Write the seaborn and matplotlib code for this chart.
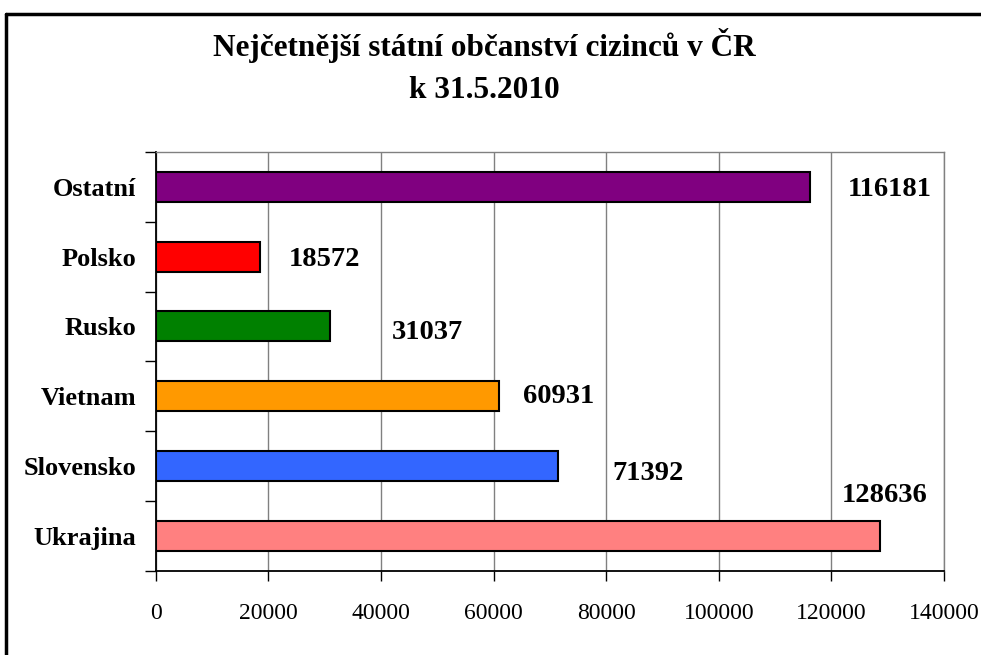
import numpy as np
import pandas as pd
import matplotlib
matplotlib.use("Agg")
import matplotlib.pyplot as plt
from matplotlib.lines import Line2D
import seaborn as sns

# data
countries = ["Ostatní", "Polsko", "Rusko", "Vietnam", "Slovensko", "Ukrajina"]
counts = [116181, 18572, 31037, 60931, 71392, 128636]
bar_colors = ["#800080", "#FF0000", "#008000", "#FF9900", "#3366FF", "#FF8080"]

# where the value labels sit (data x, offset in category units)
label_x = [130300, 30000, 48200, 71500, 87400, 129400]
label_dy = [0.0, 0.0, 0.04, -0.04, 0.06, -0.62]

df = pd.DataFrame({"country": countries, "count": counts})

sns.set_style("white")
plt.rcParams["font.family"] = ["Liberation Serif", "DejaVu Serif"]
plt.rcParams["text.color"] = "black"
plt.rcParams["xtick.color"] = "black"
plt.rcParams["ytick.color"] = "black"

fig = plt.figure(figsize=(9.81, 6.55), dpi=100)
ax = fig.add_axes([0.1587, 0.1287, 0.8036, 0.6392])

sns.barplot(data=df, x="count", y="country", hue="country", palette=bar_colors,
            order=countries, width=0.43, edgecolor="black", linewidth=1.5,
            saturation=1, legend=False, ax=ax)

ax.set_xlim(0, 140000)
ax.set_ylim(5.5, -0.5)
ax.set_xticks(np.arange(0, 140001, 20000))
ax.set_xticklabels([str(v) for v in range(0, 140001, 20000)], fontsize=17)
ax.set_yticks(range(len(countries)))
ax.set_yticklabels(countries, fontsize=19, fontweight="bold")
ax.set_yticks(np.arange(-0.5, 6, 1), minor=True)
ax.tick_params(axis="y", which="major", length=0, pad=14)
ax.tick_params(axis="y", which="minor", length=8, width=1, color="black", direction="out", left=True)
ax.tick_params(axis="x", which="major", length=7, width=1, color="black", direction="out", pad=16, bottom=True)
ax.set_xlabel("")
ax.set_ylabel("")

ax.grid(axis="x", color="#808080", linewidth=1)
ax.set_axisbelow(True)
for side in ["top", "right"]:
    ax.spines[side].set_color("#808080")
    ax.spines[side].set_linewidth(1)
for side in ["left", "bottom"]:
    ax.spines[side].set_color("black")
    ax.spines[side].set_linewidth(1.3)

for i, v in enumerate(counts):
    ax.text(label_x[i], i + label_dy[i], str(v), ha="center", va="center_baseline",
            fontsize=20.5, fontweight="bold", color="black")

fig.text(0.4935, 0.931, "Nejčetnější státní občanství cizinců v ČR", ha="center", va="center",
         fontsize=22.5, fontweight="bold", color="black")
fig.text(0.4935, 0.862, "k 31.5.2010", ha="center", va="center",
         fontsize=22.5, fontweight="bold", color="black")

# outer chart frame (cut off at right and bottom)
fig.add_artist(Line2D([6 / 981, 1.0], [1 - 14 / 655, 1 - 14 / 655], color="black", linewidth=2.5,
                      transform=fig.transFigure))
fig.add_artist(Line2D([6 / 981, 6 / 981], [0.0, 1 - 14 / 655], color="black", linewidth=2.5,
                      transform=fig.transFigure))

fig.savefig("out.png", dpi=100)
